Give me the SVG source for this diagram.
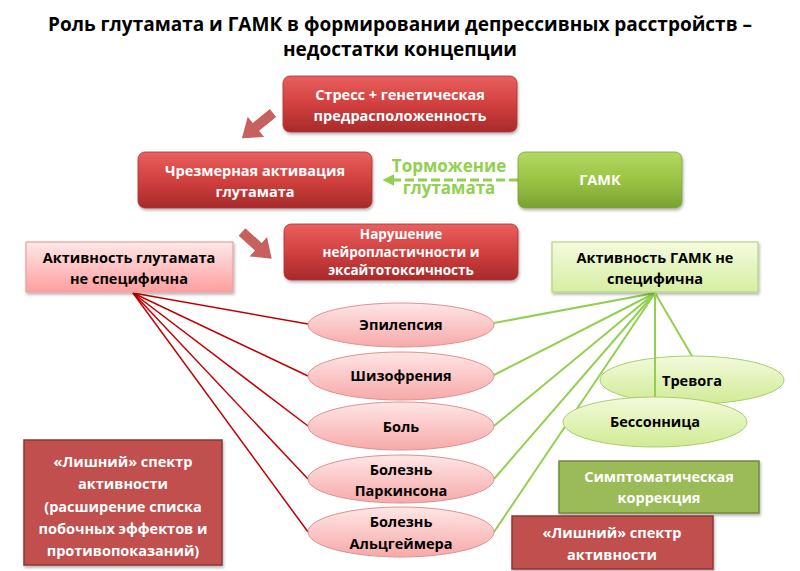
<svg xmlns="http://www.w3.org/2000/svg" width="800" height="571" viewBox="0 0 800 571">
<defs>
<linearGradient id="gRed" x1="0" y1="0" x2="0" y2="1"><stop offset="0" stop-color="#E8605E"/><stop offset="0.5" stop-color="#D2403F"/><stop offset="1" stop-color="#A82A2B"/></linearGradient>
<linearGradient id="gGreen" x1="0" y1="0" x2="0" y2="1"><stop offset="0" stop-color="#B3D862"/><stop offset="0.5" stop-color="#9BC444"/><stop offset="1" stop-color="#78A230"/></linearGradient>
<linearGradient id="gPink" x1="0" y1="0" x2="0" y2="1"><stop offset="0" stop-color="#FFE8E8"/><stop offset="1" stop-color="#FF9E9E"/></linearGradient>
<linearGradient id="gLGreen" x1="0" y1="0" x2="0" y2="1"><stop offset="0" stop-color="#F4FBDF"/><stop offset="1" stop-color="#D6EEA3"/></linearGradient>
<linearGradient id="gEPink" x1="0" y1="0" x2="0" y2="1"><stop offset="0" stop-color="#FFE6E6"/><stop offset="1" stop-color="#F7A9A9"/></linearGradient>
<linearGradient id="gEGreen" x1="0" y1="0" x2="0" y2="1"><stop offset="0" stop-color="#F3FADC"/><stop offset="1" stop-color="#D0EB94"/></linearGradient>
<filter id="sh" x="-10%" y="-20%" width="120%" height="150%"><feDropShadow dx="1" dy="2" stdDeviation="1.5" flood-color="#000" flood-opacity="0.3"/></filter>
<marker id="ah" viewBox="0 0 10 10" refX="2" refY="5" markerWidth="4" markerHeight="4" orient="auto" markerUnits="strokeWidth"><path d="M0,0 L10,5 L0,10 Z" fill="#92D050"/></marker>
</defs>
<style>
text{font-family:"Open Sans","Noto Sans","Liberation Sans",sans-serif;font-weight:bold;text-anchor:middle}
.title{font-size:19px;fill:#000}
.w{fill:#fff;font-size:14.5px}
.b{fill:#000;font-size:14.5px}
.red{fill:url(#gRed);stroke:#A33;stroke-width:0.8;filter:url(#sh)}
.grn{fill:url(#gGreen);stroke:#7FA33A;stroke-width:0.8;filter:url(#sh)}
.pink{fill:url(#gPink);stroke:#E8A0A0;stroke-width:1.2;filter:url(#sh)}
.lgrn{fill:url(#gLGreen);stroke:#B5D67A;stroke-width:1.2;filter:url(#sh)}
.ep{fill:url(#gEPink);stroke:#E29090;stroke-width:1}
.eg{fill:url(#gEGreen);stroke:#A9CF6B;stroke-width:1}
.rl{stroke:#C00000;stroke-width:1.5;fill:none}
.gl{stroke:#92D050;stroke-width:2;fill:none}
.blk{fill:#C0504D;opacity:0.9}
</style>
<g id="title">
<text class="title" x="400" y="31">Роль глутамата и ГАМК в формировании депрессивных расстройств –</text>
<text class="title" x="400" y="56">недостатки концепции</text>
</g>
<g id="connectors">
<polygon class="blk" points="0,-5 22,-5 22,-13 40,0 22,13 22,5 0,5" transform="translate(273,113) rotate(141)"/>
<polygon class="blk" points="0,-5 22,-5 22,-13 40,0 22,13 22,5 0,5" transform="translate(242,232) rotate(42)"/>
<line x1="518" y1="180" x2="392" y2="180" stroke="#92D050" stroke-width="3" stroke-dasharray="9,4" marker-end="url(#ah)"/>
<text x="449" y="172" style="font-size:17px;fill:#92D050">Торможение</text>
<text x="449" y="194" style="font-size:17px;fill:#92D050">глутамата</text>
<line class="rl" x1="133" y1="293" x2="308" y2="324"/>
<line class="rl" x1="133" y1="293" x2="308" y2="376"/>
<line class="rl" x1="133" y1="293" x2="308" y2="426"/>
<line class="rl" x1="133" y1="293" x2="308" y2="479"/>
<line class="rl" x1="133" y1="293" x2="308" y2="532"/>
<line class="gl" x1="655" y1="293" x2="494" y2="323"/>
<line class="gl" x1="655" y1="293" x2="494" y2="375"/>
<line class="gl" x1="655" y1="293" x2="494" y2="426"/>
<line class="gl" x1="655" y1="293" x2="494" y2="479"/>
<line class="gl" x1="655" y1="293" x2="494" y2="532"/>
<line class="gl" x1="655" y1="293" x2="692" y2="356"/>
</g>
<g id="stress"><rect class="red" x="283" y="76" width="234" height="56" rx="7"/><text class="w" x="400" y="100">Стресс + генетическая</text><text class="w" x="400" y="121">предрасположенность</text></g>
<g id="activation"><rect class="red" x="138" y="152" width="234" height="56" rx="7"/><text class="w" x="255" y="176">Чрезмерная активация</text><text class="w" x="255" y="197">глутамата</text></g>
<g id="gaba"><rect class="grn" x="518" y="152" width="164" height="56" rx="7"/><text class="w" x="600" y="185">ГАМК</text></g>
<g id="disorder"><rect class="red" x="284" y="224" width="234" height="56" rx="7"/><text class="w" x="401" y="239" style="font-size:13.5px">Нарушение</text><text class="w" x="401" y="257" style="font-size:13.5px">нейропластичности и</text><text class="w" x="401" y="275" style="font-size:13.5px">эксайтотоксичность</text></g>
<g id="glu-nonspec"><rect class="pink" x="26" y="242" width="207" height="50"/><text class="b" x="129" y="263">Активность глутамата</text><text class="b" x="129" y="284">не специфична</text></g>
<g id="gaba-nonspec"><rect class="lgrn" x="552" y="242" width="206" height="50"/><text class="b" x="655" y="263">Активность ГАМК не</text><text class="b" x="655" y="284">специфична</text></g>
<g id="epilepsy"><ellipse class="ep" cx="401" cy="325" rx="93" ry="22"/><text class="b" x="401" y="330">Эпилепсия</text></g>
<g id="schizo"><ellipse class="ep" cx="401" cy="376" rx="93" ry="24"/><text class="b" x="401" y="381">Шизофрения</text></g>
<g id="pain"><ellipse class="ep" cx="401" cy="426" rx="93" ry="24"/><text class="b" x="401" y="432">Боль</text></g>
<g id="parkinson"><ellipse class="ep" cx="401" cy="479" rx="93" ry="24"/><text class="b" x="401" y="475">Болезнь</text><text class="b" x="401" y="496">Паркинсона</text></g>
<g id="alzheimer"><ellipse class="ep" cx="401" cy="532" rx="93" ry="25"/><text class="b" x="401" y="527">Болезнь</text><text class="b" x="401" y="549">Альцгеймера</text></g>
<g id="anxiety"><ellipse class="eg" cx="692" cy="380" rx="92" ry="24"/><text class="b" x="692" y="386">Тревога</text></g>
<line class="gl" x1="655" y1="293" x2="655" y2="397"/>
<g id="insomnia"><ellipse class="eg" cx="655" cy="422" rx="92" ry="25"/><text class="b" x="655" y="427">Бессонница</text></g>
<g id="extra-left"><rect x="24" y="440" width="198" height="125" fill="#C0504D" stroke="#8C3836" stroke-width="1.5" filter="url(#sh)"/>
<text class="w" x="123" y="467">«Лишний» спектр</text><text class="w" x="123" y="489">активности</text><text class="w" x="123" y="512">(расширение списка</text><text class="w" x="123" y="534">побочных эффектов и</text><text class="w" x="123" y="556">противопоказаний)</text></g>
<g id="symptomatic"><rect x="559" y="461" width="200" height="52" fill="#9BBB59" stroke="#71893F" stroke-width="1.5" filter="url(#sh)"/><text class="w" x="659" y="482">Симптоматическая</text><text class="w" x="659" y="503">коррекция</text></g>
<g id="extra-right"><rect x="512" y="516" width="201" height="53" fill="#C0504D" stroke="#8C3836" stroke-width="1.5" filter="url(#sh)"/><text class="w" x="612" y="538">«Лишний» спектр</text><text class="w" x="612" y="560">активности</text></g>
</svg>
